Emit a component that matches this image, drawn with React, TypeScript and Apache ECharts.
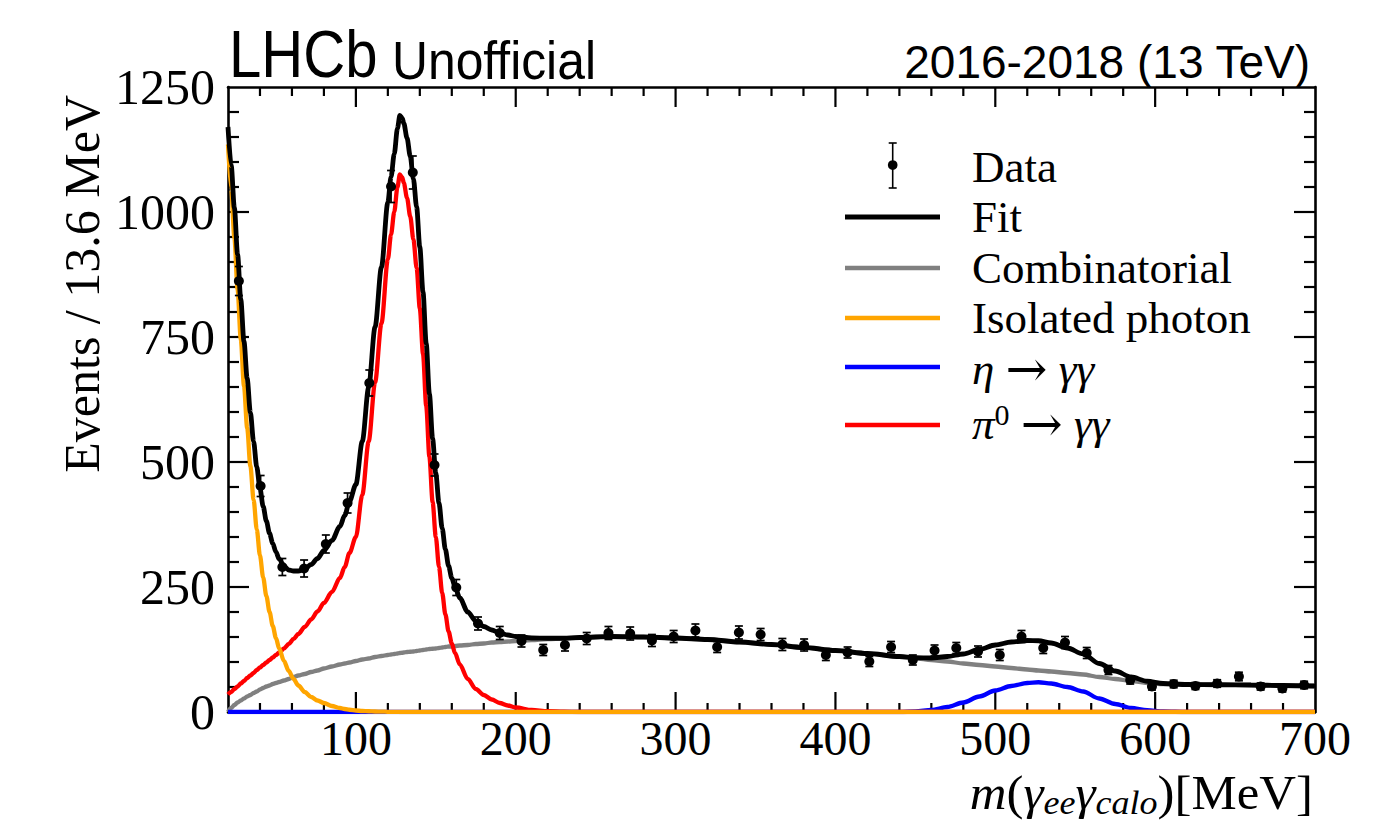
import React, { useEffect, useRef } from "react";
import * as echarts from "echarts";

// ---------- data ----------
const binCenters = [
  26.8, 40.4, 54.0, 67.6, 81.2, 94.8, 108.4, 122.0, 135.6, 149.2,
  162.8, 176.4, 190.0, 203.6, 217.2, 230.8, 244.4, 258.0, 271.6, 285.2,
  298.8, 312.4, 326.0, 339.6, 353.2, 366.8, 380.4, 394.0, 407.6, 421.2,
  434.8, 448.4, 462.0, 475.6, 489.2, 502.8, 516.4, 530.0, 543.6, 557.2,
  570.8, 584.4, 598.0, 611.6, 625.2, 638.8, 652.4, 666.0, 679.6, 693.2,
];
const counts = [
  862, 452, 290, 287, 336, 418, 658, 1051, 1079, 494,
  249, 177, 158, 142, 124, 134, 147, 158, 157, 143,
  151, 163, 130, 159, 155, 135, 134, 114, 119, 101,
  130, 104, 123, 128, 121, 114, 151, 128, 139, 118,
  84, 64, 51, 56, 52, 57, 71, 51, 47, 54,
];
const errors = [
  29, 21, 17, 17, 18, 20, 26, 32, 33, 22,
  16, 13, 13, 12, 11, 12, 12, 13, 13, 12,
  12, 13, 11, 13, 12, 12, 12, 11, 11, 10,
  11, 10, 11, 11, 11, 11, 12, 11, 12, 11,
  9, 8, 7, 7.5, 7, 7.5, 8.5, 7, 7, 7.5,
];

const curveX = [
  20, 22, 24, 26, 28, 30, 32, 34, 36, 38, 40, 42, 44, 46, 48, 50, 52,
  55, 58, 61, 64, 68, 72, 76, 80, 85, 90, 93, 96,
  100, 104, 108, 112, 116, 120, 122, 124, 126, 127.5, 129, 130,
  132, 134, 136, 138, 140, 142, 144, 146, 148, 150, 152, 154, 156, 158, 160, 162,
  165, 170, 175, 180, 185, 190, 195, 200, 210, 220, 230, 240,
  260, 280, 300, 320, 340, 360, 380, 400, 420, 440,
  450, 460, 470, 480, 490, 500, 510, 520, 527, 535, 545, 555, 565, 575, 585, 595, 605,
  620, 640, 660, 680, 700,
];
const fitY = [
  1170, 1093, 1008, 915, 825, 741, 667, 599, 541, 490, 447, 411, 382, 357, 337, 320, 306,
  292, 284, 282, 282, 286, 295, 307, 323, 343, 371, 393, 421.5,
  455, 541, 649.5, 770, 889.7, 1019.4, 1070.3, 1116.2, 1167.1, 1193, 1187.5, 1177,
  1148, 1111.5, 1066, 1010, 930, 840, 737, 636, 546.5, 477, 418, 367, 325, 292, 268, 250,
  228, 200, 182, 171, 164, 158, 154, 151, 148, 147.5, 147.5, 149,
  151, 150, 148, 145, 140, 135, 129, 123, 117, 111,
  108.5, 108, 111, 116, 125, 134, 140, 143, 142.5, 138, 128, 116, 97, 82, 70, 61.5, 57,
  55, 54.5, 54, 53, 52,
];
const combY = [
  0, 8, 14, 19, 23, 27, 31, 34, 38, 41, 45, 48, 51, 53, 56, 58, 60,
  63, 66, 70, 73, 76, 80, 83, 87, 91, 95, 97, 99,
  102, 105, 107, 110, 112, 114, 115, 116, 117, 118, 118.5, 119,
  120, 120.5, 121, 122, 123, 124, 125, 126, 126.5, 127, 128, 129, 130, 131, 131, 132,
  133, 134, 136, 137, 139, 140, 141, 142, 144, 146, 147, 149,
  151, 150, 148, 145, 140, 135, 129, 123, 117, 111,
  107.5, 104, 101, 97, 94, 91, 88, 85, 83, 81, 78, 75, 70, 66, 62, 58, 56,
  55, 54.5, 54, 53, 52,
];
const isoY = [
  1135, 1045, 948, 845, 745, 652, 568, 492, 425, 365, 313, 269, 232, 200, 172, 148, 127,
  102, 82, 66, 53, 40, 30, 23, 18, 12, 8, 6, 4.5,
  3, 2, 1.5, 1, 0.7, 0.4, 0.3, 0.2, 0.1, 0, 0, 0,
  0, 0, 0, 0, 0, 0, 0, 0, 0, 0, 0, 0, 0, 0, 0, 0,
  0, 0, 0, 0, 0, 0, 0, 0, 0, 0, 0, 0,
  0, 0, 0, 0, 0, 0, 0, 0, 0, 0,
  0, 0, 0, 0, 0, 0, 0, 0, 0, 0, 0, 0, 0, 0, 0, 0, 0,
  0, 0, 0, 0, 0,
];
const etaY = [
  0, 0, 0, 0, 0, 0, 0, 0, 0, 0, 0, 0, 0, 0, 0, 0, 0,
  0, 0, 0, 0, 0, 0, 0, 0, 0, 0, 0, 0,
  0, 0, 0, 0, 0, 0, 0, 0, 0, 0, 0, 0,
  0, 0, 0, 0, 0, 0, 0, 0, 0, 0, 0, 0, 0, 0, 0, 0,
  0, 0, 0, 0, 0, 0, 0, 0, 0, 0, 0, 0,
  0, 0, 0, 0, 0, 0, 0, 0, 0, 0,
  1, 4, 10, 19, 31, 43, 52, 58, 59.5, 57, 50, 41, 27, 16, 8, 3.5, 1,
  0, 0, 0, 0, 0,
];
const pi0Y = [
  35, 40, 46, 51, 57, 62, 68, 73, 78, 84, 89, 94, 99, 104, 109, 114, 119,
  127, 136, 146, 156, 170, 185, 201, 218, 240, 268, 290, 318,
  350, 434, 541, 659, 777, 905, 955, 1000, 1050, 1075, 1069, 1058,
  1028, 991, 945, 888, 807, 716, 612, 510, 420, 350, 290, 238, 195, 161, 137, 118,
  95, 66, 46, 34, 25, 18, 13, 9, 4, 1.5, 0.5, 0,
  0, 0, 0, 0, 0, 0, 0, 0, 0, 0,
  0, 0, 0, 0, 0, 0, 0, 0, 0, 0, 0, 0, 0, 0, 0, 0, 0,
  0, 0, 0, 0, 0,
];

// tick positions
const xMajorTicks = [100, 200, 300, 400, 500, 600];
const xMinorTicks = [
  40, 60, 80, 120, 140, 160, 180, 220, 240, 260, 280, 320, 340, 360, 380,
  420, 440, 460, 480, 520, 540, 560, 580, 620, 640, 660, 680,
];
const yMajorTicks = [250, 500, 750, 1000];
const yMinorTicks = [
  50, 100, 150, 200, 300, 350, 400, 450, 550, 600, 650, 700,
  800, 850, 900, 950, 1050, 1100, 1150, 1200,
];

const legendLabels = ["Data", "Fit", "Combinatorial", "Isolated photon"];

// ---------- styling ----------
const SERIF = "'Liberation Serif', 'Times New Roman', 'DejaVu Serif', serif";
const SANS = "'Liberation Sans', Arial, Helvetica, sans-serif";
const C_FIT = "#000000";
const C_COMB = "#808080";
const C_ISO = "#ffa500";
const C_ETA = "#0000ff";
const C_PI0 = "#ff0000";
const W_COMP = 4.3;
const W_FIT = 4.8;

const X_MIN = 20;
const X_MAX = 700;
const Y_MIN = 0;
const Y_MAX = 1250;

function pairs(xs: number[], ys: number[]) {
  return xs.map((x, i) => [x, ys[i]]);
}

export default function App() {
  const ref = useRef<HTMLDivElement>(null);

  useEffect(() => {
    if (!ref.current) return;
    const chart = echarts.init(ref.current, null, { renderer: "svg" });
    const black = "#000";

    const xAx = (pos: string) => ({
      type: "value",
      position: pos,
      min: X_MIN,
      max: X_MAX,
      interval: 20,
      axisLine: { show: true, onZero: false, lineStyle: { color: black, width: 2.6 } },
      axisTick: { show: false },
      axisLabel:
        pos === "bottom"
          ? {
              show: true,
              margin: 2,
              fontSize: 48,
              fontFamily: SERIF,
              color: black,
              formatter: (v: number) => (Math.round(v) % 100 === 0 ? String(Math.round(v)) : ""),
            }
          : { show: false },
      splitLine: { show: false },
    });
    const yAx = (pos: string) => ({
      type: "value",
      position: pos,
      min: Y_MIN,
      max: Y_MAX,
      interval: 250,
      axisLine: { show: true, onZero: false, lineStyle: { color: black, width: 2.6 } },
      axisTick: { show: false },
      axisLabel:
        pos === "left"
          ? {
              show: true, margin: 13, fontSize: 50, fontFamily: SERIF, color: black,
              formatter: (v: number) => String(Math.round(v)),
            }
          : { show: false },
      splitLine: { show: false },
    });

    const lineSeries = (ys: number[], color: string, width: number, z: number) => ({
      type: "line",
      xAxisIndex: 0,
      yAxisIndex: 0,
      data: pairs(curveX, ys),
      showSymbol: false,
      symbol: "none",
      smooth: 0.3,
      smoothMonotone: "x",
      lineStyle: { color, width },
      z,
      silent: true,
    });

    const legendY = [167, 217, 268, 318, 369, 424];
    const lx1 = 845;
    const lx2 = 940;
    const tx = 972;
    const legTextStyle = { fontSize: 45, fontFamily: SERIF, fill: black, align: "left", verticalAlign: "middle" };
    const arrowStyle = { fontSize: 50, fontFamily: "'DejaVu Serif', 'Liberation Serif', serif" };

    const graphic: any[] = [
      {
        type: "text", x: 229, y: 54, scaleX: 0.88, z: 100,
        style: { text: "LHCb", fontSize: 66, fontFamily: SANS, fill: black, align: "left", verticalAlign: "middle" },
      },
      {
        type: "text", x: 392, y: 60, scaleX: 0.94, z: 100,
        style: { text: "Unofficial", fontSize: 53, fontFamily: SANS, fill: black, align: "left", verticalAlign: "middle" },
      },
      {
        type: "text", x: 1310, y: 62, z: 100,
        style: { text: "2016-2018 (13 TeV)", fontSize: 46, fontFamily: SANS, fill: black, align: "right", verticalAlign: "middle" },
      },
      {
        type: "text", x: 82, y: 95, rotation: Math.PI / 2, z: 100,
        style: { text: "Events / 13.6 MeV", fontSize: 50, fontFamily: SERIF, fill: black, align: "right", verticalAlign: "middle" },
      },
      {
        type: "text", x: 1313, y: 793, scaleX: 1.06, z: 100,
        style: {
          text: "{i|m}({i|γ}{s|ee}{i|γ}{s|calo})[MeV]",
          fontSize: 48, fontFamily: SERIF, fill: black, align: "right", verticalAlign: "middle",
          lineHeight: 54,
          rich: {
            i: { fontStyle: "italic", fontSize: 48, fontFamily: SERIF, lineHeight: 54 },
            s: { fontStyle: "italic", fontSize: 34, fontFamily: SERIF, lineHeight: 50, verticalAlign: "bottom" },
          },
        },
      },
      // legend: data marker
      { type: "line", z: 100, shape: { x1: 892.7, y1: 143, x2: 892.7, y2: 188 }, style: { stroke: black, lineWidth: 1.6 } },
      { type: "line", z: 100, shape: { x1: 888.7, y1: 143, x2: 896.7, y2: 143 }, style: { stroke: black, lineWidth: 1.6 } },
      { type: "line", z: 100, shape: { x1: 888.7, y1: 188, x2: 896.7, y2: 188 }, style: { stroke: black, lineWidth: 1.6 } },
      { type: "circle", z: 100, shape: { cx: 892.7, cy: 165, r: 4.8 }, style: { fill: black } },
      // legend lines
      { type: "line", z: 100, shape: { x1: lx1, y1: legendY[1], x2: lx2, y2: legendY[1] }, style: { stroke: C_FIT, lineWidth: W_FIT } },
      { type: "line", z: 100, shape: { x1: lx1, y1: legendY[2], x2: lx2, y2: legendY[2] }, style: { stroke: C_COMB, lineWidth: W_COMP } },
      { type: "line", z: 100, shape: { x1: lx1, y1: legendY[3], x2: lx2, y2: legendY[3] }, style: { stroke: C_ISO, lineWidth: W_COMP } },
      { type: "line", z: 100, shape: { x1: lx1, y1: legendY[4] - 2, x2: lx2, y2: legendY[4] - 2 }, style: { stroke: C_ETA, lineWidth: W_COMP } },
      { type: "line", z: 100, shape: { x1: lx1, y1: legendY[5] + 1, x2: lx2, y2: legendY[5] + 1 }, style: { stroke: C_PI0, lineWidth: W_COMP } },
      // legend texts
      ...legendLabels.map((t, i) => ({ type: "text", z: 100, x: tx, y: legendY[i], style: { ...legTextStyle, text: t } })),
      {
        type: "text", z: 100, x: tx, y: legendY[4],
        style: {
          ...legTextStyle,
          text: "{i|η} {a|→} {i|γγ}",
          rich: { i: { fontStyle: "italic", fontSize: 45, fontFamily: SERIF }, a: arrowStyle },
        },
      },
      {
        type: "text", z: 100, x: tx, y: legendY[5],
        style: {
          ...legTextStyle,
          lineHeight: 50,
          text: "{i|π}{sup|0} {a|→} {i|γγ}",
          rich: {
            i: { fontStyle: "italic", fontSize: 45, fontFamily: SERIF, lineHeight: 50 },
            sup: { fontSize: 30, fontFamily: SERIF, lineHeight: 30, verticalAlign: "top" },
            a: { ...arrowStyle, lineHeight: 50 },
          },
        },
      },
    ];

    const tickData = [
      ...xMajorTicks.map((v) => [v, Y_MIN, 0]),
      ...xMinorTicks.map((v) => [v, Y_MIN, 1]),
      ...yMajorTicks.map((v) => [X_MIN, v, 2]),
      ...yMinorTicks.map((v) => [X_MIN, v, 3]),
    ];

    const option: any = {
      animation: false,
      backgroundColor: "#ffffff",
      grid: { left: 228, top: 87, width: 1087, height: 625, outerBoundsMode: "none" },
      xAxis: [xAx("bottom"), xAx("top")],
      yAxis: [yAx("left"), yAx("right")],
      series: [
        {
          type: "custom",
          name: "ticks",
          xAxisIndex: 0,
          yAxisIndex: 0,
          z: 1,
          silent: true,
          clip: false,
          data: tickData,
          encode: { x: 0, y: 1 },
          renderItem: (_p: any, api: any) => {
            const kind = api.value(2);
            const st = { stroke: black, lineWidth: 2.2 };
            if (kind < 2) {
              const len = kind === 0 ? 20 : 9;
              const b = api.coord([api.value(0), Y_MIN]);
              const t = api.coord([api.value(0), Y_MAX]);
              return {
                type: "group",
                children: [
                  { type: "line", shape: { x1: b[0], y1: b[1], x2: b[0], y2: b[1] - len }, style: st },
                  { type: "line", shape: { x1: t[0], y1: t[1], x2: t[0], y2: t[1] + len }, style: st },
                ],
              };
            }
            const len = kind === 2 ? 21 : 11;
            const l = api.coord([X_MIN, api.value(1)]);
            const r = api.coord([X_MAX, api.value(1)]);
            return {
              type: "group",
              children: [
                { type: "line", shape: { x1: l[0], y1: l[1], x2: l[0] + len, y2: l[1] }, style: st },
                { type: "line", shape: { x1: r[0], y1: r[1], x2: r[0] - len, y2: r[1] }, style: st },
              ],
            };
          },
        },
        lineSeries(combY, C_COMB, W_COMP, 2),
        lineSeries(etaY, C_ETA, W_COMP, 2),
        lineSeries(pi0Y, C_PI0, W_COMP, 2),
        lineSeries(isoY, C_ISO, W_COMP, 2),
        lineSeries(fitY, C_FIT, W_FIT, 3),
        {
          type: "custom",
          name: "errors",
          xAxisIndex: 0,
          yAxisIndex: 0,
          z: 4,
          silent: true,
          data: binCenters.map((x, i) => [x, counts[i] - errors[i], counts[i] + errors[i]]),
          encode: { x: 0, y: [1, 2] },
          renderItem: (_params: any, api: any) => {
            const x = api.value(0);
            const lo = api.coord([x, api.value(1)]);
            const hi = api.coord([x, api.value(2)]);
            const st = { stroke: black, lineWidth: 1.7 };
            return {
              type: "group",
              children: [
                { type: "line", shape: { x1: lo[0], y1: lo[1], x2: hi[0], y2: hi[1] }, style: st },
                { type: "line", shape: { x1: lo[0] - 4, y1: lo[1], x2: lo[0] + 4, y2: lo[1] }, style: st },
                { type: "line", shape: { x1: hi[0] - 4, y1: hi[1], x2: hi[0] + 4, y2: hi[1] }, style: st },
              ],
            };
          },
        },
        {
          type: "scatter",
          name: "Data",
          xAxisIndex: 0,
          yAxisIndex: 0,
          z: 5,
          silent: true,
          symbol: "circle",
          symbolSize: 10,
          itemStyle: { color: black, opacity: 1 },
          data: pairs(binCenters, counts),
        },
      ],
      graphic,
    };

    chart.setOption(option);
    return () => chart.dispose();
  }, []);

  return (
    <div
      ref={ref}
      style={{ position: "fixed", left: 0, top: 0, width: 1388, height: 822, background: "#fff" }}
    />
  );
}
